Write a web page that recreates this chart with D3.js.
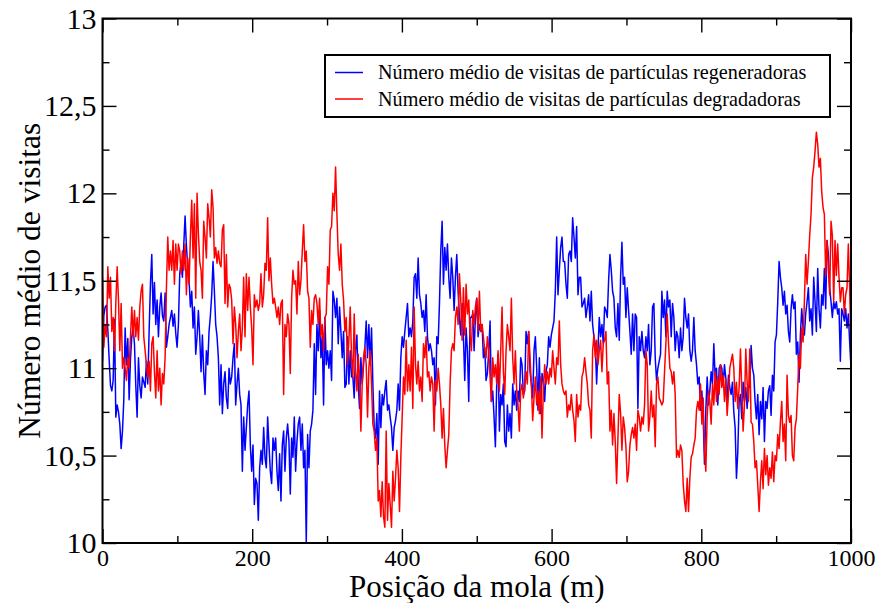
<!DOCTYPE html>
<html>
<head>
<meta charset="utf-8">
<script src="https://cdn.jsdelivr.net/npm/d3@7"></script>
<style>
  body { margin: 0; background: #fff; }
  svg text { font-family: "Liberation Serif", "Times New Roman", serif; fill: #000; }
</style>
</head>
<body>
<script>
// mean number of visits along the spring, sampled evenly from x = 0 to x = 1000
var blueValues = [
  // 0 - 157
  11.04,11.30,11.35,11.36,11.22,11.05,10.90,10.87,10.93,11.28,
  10.72,10.79,10.75,10.68,10.54,10.64,10.82,11.23,11.02,11.17,
  10.82,11.05,11.18,11.23,11.14,10.90,10.72,11.06,10.90,10.83,
  10.95,10.92,10.89,11.04,10.91,11.21,11.48,11.65,11.31,11.49,
  11.25,11.39,11.18,11.35,11.43,11.30,11.27,11.43,11.12,11.18,
  11.25,11.29,11.33,11.24,11.31,11.20,11.12,11.25,11.54,11.61,
  11.52,11.70,11.87,11.70,11.58,11.50,11.35,11.44,11.23,11.35,
  11.08,11.18,11.33,11.18,10.98,11.19,10.97,10.85,11.10,11.02,
  11.21,11.30,11.42,11.61,11.44,11.25,11.18,11.06,10.79,
  // 157 - 324
  11.02,10.74,10.91,10.98,10.83,10.77,11.00,10.91,10.95,11.06,
  11.14,10.79,10.91,11.00,10.85,10.79,10.41,10.72,10.53,10.66,
  10.79,10.87,10.56,10.41,10.56,10.22,10.37,10.34,10.13,10.43,
  10.53,10.45,10.66,10.49,10.43,10.72,10.56,10.41,10.34,10.60,
  10.53,10.60,10.41,10.30,10.51,10.24,10.56,10.64,10.41,10.60,
  10.68,10.58,10.28,10.60,10.49,10.72,10.41,10.58,10.68,10.72,
  10.53,10.68,10.43,10.53,10.00,10.62,10.43,10.64,10.68,10.76,
  11.14,10.85,11.25,11.10,11.33,11.06,11.18,10.79,11.29,11.02,
  11.10,11.00,11.10,10.93,11.44,11.39,11.29,11.40,11.14,11.35,
  11.21,11.06,11.21,10.89,
  // 324 - 491
  10.91,11.18,10.91,11.10,10.95,10.95,10.83,11.10,11.19,10.91,
  10.77,11.06,10.91,11.02,11.12,11.27,11.06,11.25,11.02,11.23,
  10.91,10.66,10.60,10.74,10.45,10.87,10.66,10.85,10.79,10.87,
  10.93,10.76,10.79,10.72,10.66,10.53,10.66,10.70,10.76,10.91,
  10.76,11.06,11.18,11.12,11.21,11.29,11.37,11.18,11.23,11.18,
  11.27,11.52,11.54,11.40,11.63,11.42,11.37,11.29,11.33,11.21,
  11.42,11.18,11.10,11.14,11.10,11.02,11.06,10.79,11.18,11.14,
  11.37,11.67,11.84,11.48,11.69,11.56,11.71,11.52,11.40,11.63,
  11.52,11.33,11.52,11.65,11.44,11.29,11.19,11.37,11.18,10.93,
  11.23,11.10,10.81,11.29,
  // 491 - 658
  11.29,11.31,11.10,11.29,11.40,11.18,11.25,11.21,11.25,11.06,
  11.12,10.93,10.97,11.10,11.27,10.81,10.87,10.72,10.55,10.91,
  11.08,10.64,10.85,10.79,10.91,10.58,10.55,10.79,10.64,10.74,
  10.60,10.91,10.79,10.87,10.76,10.87,10.81,11.06,11.02,10.85,
  10.87,11.21,11.14,11.21,10.98,10.91,10.83,11.10,11.18,11.00,
  10.76,11.06,10.74,10.97,10.93,10.81,10.98,11.02,11.18,11.12,
  11.19,11.23,11.27,11.44,11.75,11.42,11.56,11.69,11.75,11.61,
  11.61,11.48,11.40,11.65,11.67,11.61,11.86,11.75,11.63,11.81,
  11.42,11.52,11.52,11.35,11.37,11.40,11.29,11.35,11.42,11.27,
  11.44,11.25,11.18,11.14,
  // 658 - 825
  10.91,11.10,11.29,11.18,11.25,11.14,11.35,11.33,11.29,11.50,
  11.65,11.56,11.44,11.40,11.23,11.18,11.37,11.16,11.52,11.72,
  11.48,11.52,11.29,11.46,11.33,11.21,11.08,11.31,11.10,11.31,
  11.29,10.77,11.18,11.10,11.21,11.10,11.06,11.18,11.10,11.25,
  11.02,11.10,11.35,11.37,11.06,10.93,11.00,11.04,11.08,11.44,
  11.29,11.39,11.18,11.44,11.35,11.39,11.18,11.37,11.29,11.10,
  11.21,11.18,11.06,11.23,11.10,11.18,11.40,11.29,11.23,11.31,
  11.10,11.04,11.10,11.29,11.10,11.02,10.91,10.95,10.76,10.87,
  10.72,10.45,10.76,10.95,10.79,10.87,10.98,10.91,11.14,10.95,
  11.00,10.79,11.00,11.02,
  // 825 - 1000
  11.00,10.90,11.02,10.94,10.81,10.96,10.89,10.85,10.92,10.75,
  10.66,10.37,10.52,10.81,10.85,10.71,10.92,10.81,10.89,10.77,
  10.90,10.89,11.13,11.00,10.96,10.81,10.71,10.85,10.62,10.81,
  10.71,10.89,10.58,10.81,10.77,10.87,10.90,10.73,10.96,10.87,
  11.15,11.19,11.38,11.61,11.52,11.46,11.36,11.44,11.31,11.36,
  11.21,11.15,11.34,11.42,11.34,11.38,11.08,11.15,10.92,11.19,
  11.34,11.23,11.19,11.31,11.38,11.46,11.27,11.34,11.19,11.52,
  11.38,11.21,11.57,11.34,11.23,11.42,11.36,11.57,11.34,11.73,
  11.65,11.46,11.38,11.29,11.38,11.34,11.38,11.31,11.34,11.04,
  11.34,11.31,11.27,11.34,11.23,11.31,11.15,11.00
];

var redValues = [
  // 0 - 157
  11.52,11.12,11.25,11.18,11.58,11.40,11.52,11.21,11.29,11.10,
  11.37,11.58,11.39,11.10,11.37,11.00,11.06,11.00,10.93,11.06,
  11.00,11.18,11.35,11.18,11.33,11.18,11.29,11.16,11.35,11.44,
  11.48,11.18,11.10,11.02,10.95,11.04,10.87,11.14,11.18,10.98,
  10.83,11.10,10.87,11.00,10.79,10.97,10.91,11.06,11.46,11.75,
  11.56,11.67,11.56,11.73,11.48,11.71,11.56,11.71,11.67,11.54,
  11.67,11.56,11.71,11.42,11.63,11.48,11.75,11.96,11.63,11.94,
  11.40,12.00,11.77,11.61,11.56,11.40,11.84,11.75,11.63,11.94,
  11.86,11.75,12.02,11.92,11.63,11.69,11.60,11.67,11.60,
  // 157 - 324
  11.58,11.79,11.82,11.37,11.65,11.35,11.48,11.46,11.39,11.14,
  11.35,11.25,11.06,11.21,11.31,11.10,11.23,11.52,11.18,11.54,
  11.33,11.52,11.35,11.23,11.02,11.42,11.35,11.39,11.33,11.37,
  11.54,11.35,11.42,11.60,11.56,11.86,11.50,11.63,11.48,11.37,
  11.40,11.35,11.29,11.35,11.25,11.37,11.39,10.85,11.25,11.18,
  11.31,11.25,10.97,11.40,11.56,11.48,11.50,11.31,11.61,11.42,
  11.50,11.67,11.82,11.61,11.67,11.44,11.40,11.12,11.33,11.25,
  11.40,11.42,11.37,11.25,11.40,11.18,11.25,11.10,11.29,11.31,
  11.58,11.48,11.79,11.81,12.00,11.90,12.15,11.88,11.65,11.56,
  11.71,11.48,11.39,11.21,
  // 324 - 491
  11.29,11.02,11.16,11.35,11.06,10.95,11.31,10.98,10.87,11.08,
  10.95,10.64,10.91,11.06,11.12,11.02,10.72,11.00,11.10,10.91,
  10.68,10.64,10.53,10.60,10.24,10.30,10.15,10.35,10.15,10.09,
  10.64,10.13,10.34,10.22,10.09,10.41,10.24,10.37,10.53,10.43,
  10.18,10.49,10.72,10.95,10.85,11.16,10.87,11.02,10.87,11.12,
  10.77,11.35,11.02,10.91,11.04,10.87,10.95,10.81,11.14,11.06,
  11.18,10.95,10.98,10.87,10.95,10.91,10.64,10.93,10.87,11.00,
  10.91,10.79,10.60,10.77,10.56,10.43,10.53,10.62,10.91,11.10,
  11.14,11.10,11.29,11.35,11.25,11.54,11.39,11.16,11.46,11.19,
  11.48,11.31,11.39,11.19,
  // 491 - 658
  11.10,11.33,11.25,11.35,11.40,11.21,11.44,11.21,11.25,11.18,
  11.10,11.06,11.18,11.10,10.95,10.81,11.06,10.95,11.02,10.91,
  11.10,10.87,11.10,11.35,10.98,10.85,11.10,11.25,11.18,11.10,
  11.40,11.06,10.91,11.10,10.87,10.79,10.64,10.87,10.91,10.83,
  10.89,10.98,10.91,11.21,11.06,10.91,10.70,10.83,10.95,10.79,
  10.87,10.74,10.95,10.60,10.87,11.02,10.91,10.98,10.91,11.00,
  10.95,11.10,11.00,10.91,11.06,11.02,11.27,11.02,10.91,10.87,
  10.85,10.87,10.72,10.79,10.76,10.85,10.76,10.70,10.58,10.85,
  10.72,10.79,10.76,10.95,10.98,11.06,10.98,10.91,10.79,10.76,
  10.60,11.10,11.19,11.06,
  // 658 - 825
  11.16,11.02,11.10,11.16,10.98,11.14,11.16,11.21,10.91,10.98,
  10.64,10.76,10.56,10.74,10.58,10.34,10.60,10.85,10.74,10.53,
  10.72,10.66,10.55,10.35,10.41,10.56,10.62,10.66,10.60,10.68,
  10.53,10.76,10.72,10.64,10.72,10.68,10.79,11.10,11.02,10.64,
  10.72,10.87,10.72,10.79,10.55,10.91,10.95,10.83,10.81,10.79,
  10.81,10.98,11.14,11.31,11.14,11.00,10.98,10.91,10.98,10.85,
  10.49,10.53,10.49,10.56,10.53,10.34,10.24,10.18,10.37,10.18,
  10.37,10.49,10.51,10.56,10.60,10.76,10.81,10.76,10.91,10.68,
  10.83,10.53,10.41,10.72,10.87,10.81,10.68,10.91,10.79,10.98,
  10.81,10.95,10.85,11.02,
  // 825 - 1000
  10.89,10.96,10.81,10.94,10.73,10.85,11.00,11.04,11.08,11.00,
  10.81,10.92,10.77,10.89,11.11,10.87,10.64,10.79,11.11,10.92,
  10.81,11.11,10.69,10.68,10.58,10.43,10.47,10.33,10.18,10.35,
  10.47,10.31,10.54,10.39,10.50,10.33,10.43,10.37,10.52,10.35,
  10.50,10.47,10.62,10.54,10.69,10.81,10.58,10.68,10.47,10.96,
  10.73,10.69,10.73,10.50,10.47,10.66,10.71,10.89,11.08,11.00,
  11.23,11.15,11.38,11.65,11.48,11.61,11.76,11.88,12.09,12.15,
  12.24,12.35,12.28,12.15,12.20,12.01,11.92,11.88,11.53,11.73,
  11.57,11.42,11.84,11.76,11.38,11.73,11.53,11.71,11.52,11.38,
  11.46,11.46,11.31,11.42,11.46,11.71,11.46,11.11
];

var seriesNames = [
  "Número médio de visitas de partículas regeneradoras",
  "Número médio de visitas de partículas degradadoras"
];
var seriesColors = ["#0000ff", "#ff0000"];

var xMajorTicks = [0, 200, 400, 600, 800, 1000];
var xMinorTicks = [100, 300, 500, 700, 900];
var yMajorTicks = [10, 10.5, 11, 11.5, 12, 12.5, 13];
var yMinorTicks = [10.25, 10.75, 11.25, 11.75, 12.25, 12.75];

var xTitle = "Posição da mola (m)";
var yTitle = "Número médio de visitas";

var svgOptions = { width: 878, height: 603 };
var plot = { left: 102.5, right: 851, top: 18.5, bottom: 543 };

var svg = d3.select("body")
  .append("svg")
  .attr("width", svgOptions.width)
  .attr("height", svgOptions.height);

var x = d3.scaleLinear().domain([0, 1000]).range([plot.left, plot.right]);
var y = d3.scaleLinear().domain([10, 13]).range([plot.bottom, plot.top]);

// decimal comma on the y labels
var commaFormat = function (d) { return String(d).replace(".", ","); };

svg.append("clipPath").attr("id", "plot-clip")
  .append("rect")
  .attr("x", plot.left).attr("y", plot.top)
  .attr("width", plot.right - plot.left)
  .attr("height", plot.bottom - plot.top);

// Lines: samples are evenly spaced along the spring
var series = [blueValues, redValues];
series.forEach(function (values, i) {
  var sampleX = d3.scaleLinear().domain([0, values.length - 1]).range([0, 1000]);
  var line = d3.line()
    .x(function (d, j) { return x(sampleX(j)); })
    .y(function (d) { return y(d); });
  svg.append("path")
    .datum(values)
    .attr("clip-path", "url(#plot-clip)")
    .attr("fill", "none")
    .attr("stroke", seriesColors[i])
    .attr("stroke-width", 1.5)
    .attr("stroke-linejoin", "round")
    .attr("d", line);
});

// Axes, ticks pointing inward on all four sides
var drawAxis = function (axis, tx, ty, fontSize) {
  var g = svg.append("g")
    .attr("transform", "translate(" + tx + "," + ty + ")")
    .call(axis);
  g.select(".domain").remove();
  g.attr("font-family", null).attr("font-size", fontSize || null);
  g.selectAll(".tick line").attr("stroke", "#000").attr("stroke-width", 1.4);
  return g;
};

drawAxis(d3.axisBottom(x).tickValues(xMajorTicks).tickSize(-14).tickPadding(6).tickFormat(d3.format("d")), 0, plot.bottom, 24);
drawAxis(d3.axisBottom(x).tickValues(xMinorTicks).tickSize(-7).tickFormat(""), 0, plot.bottom);
drawAxis(d3.axisTop(x).tickValues(xMajorTicks).tickSize(-14).tickFormat(""), 0, plot.top);
drawAxis(d3.axisTop(x).tickValues(xMinorTicks).tickSize(-7).tickFormat(""), 0, plot.top);

drawAxis(d3.axisLeft(y).tickValues(yMajorTicks).tickSize(-14).tickPadding(6).tickFormat(commaFormat), plot.left, 0, 30);
drawAxis(d3.axisLeft(y).tickValues(yMinorTicks).tickSize(-7).tickFormat(""), plot.left, 0);
drawAxis(d3.axisRight(y).tickValues(yMajorTicks).tickSize(-14).tickFormat(""), plot.right, 0);
drawAxis(d3.axisRight(y).tickValues(yMinorTicks).tickSize(-7).tickFormat(""), plot.right, 0);

// Frame
svg.append("rect")
  .attr("x", plot.left).attr("y", plot.top)
  .attr("width", plot.right - plot.left)
  .attr("height", plot.bottom - plot.top)
  .attr("fill", "none")
  .attr("stroke", "#000")
  .attr("stroke-width", 2);

// Axis titles
svg.append("text")
  .attr("x", (plot.left + plot.right) / 2)
  .attr("y", 597)
  .attr("text-anchor", "middle")
  .attr("font-size", 31)
  .text(xTitle);

svg.append("text")
  .attr("transform", "translate(40," + (plot.top + plot.bottom) / 2 + ") rotate(-90)")
  .attr("text-anchor", "middle")
  .attr("font-size", 31.5)
  .text(yTitle);

// Legend
var legend = svg.append("g");
legend.append("rect")
  .attr("x", 325).attr("y", 55)
  .attr("width", 505).attr("height", 62)
  .attr("fill", "#fff")
  .attr("stroke", "#000")
  .attr("stroke-width", 2);

seriesNames.forEach(function (name, i) {
  var ly = 72.5 + i * 26.5;
  legend.append("line")
    .attr("x1", 335).attr("x2", 363)
    .attr("y1", ly).attr("y2", ly)
    .attr("stroke", seriesColors[i])
    .attr("stroke-width", 1.5);
  legend.append("text")
    .attr("x", 378)
    .attr("y", ly + 6.5)
    .attr("font-size", 20.2)
    .text(name);
});
</script>
</body>
</html>
